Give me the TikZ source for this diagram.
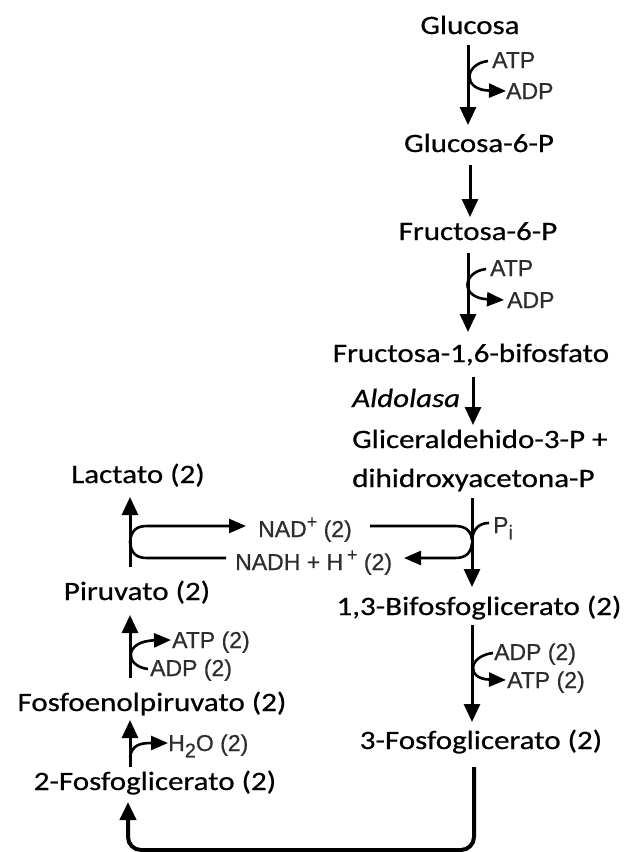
\documentclass[tikz,border=0pt]{standalone}
\usepackage{fontspec}
\setmainfont{Carlito}[FakeStretch=1.17,FakeBold=0.6]
\newfontfamily\labfont{Liberation Sans}[FakeBold=0.6]
\usetikzlibrary{arrows.meta}
\definecolor{labgray}{RGB}{45,45,45}
\newcommand\supx[1]{\raisebox{0.40em}{\fontsize{18}{18}\selectfont #1}}
\newcommand\subx[1]{\raisebox{-0.28em}{\fontsize{20}{20}\selectfont #1}}
\tikzset{
  metab/.style={inner sep=0pt, anchor=base, font=\fontsize{26.5}{30}\selectfont, text=black},
  metabw/.style={metab, anchor=base west},
  cofac/.style={inner sep=0pt, anchor=base west, font=\labfont\fontsize{23}{26}\selectfont, text=labgray},
  mainarr/.style={line width=3pt, -{Triangle[length=18pt,width=16pt]}},
  sidearr/.style={line width=2.6pt, -{Triangle[length=17pt,width=14pt]}},
  sideline/.style={line width=2.6pt},
  loopline/.style={line width=4pt, rounded corners=13pt, -{Triangle[length=18pt,width=16pt]}},
}
\begin{document}
\begin{tikzpicture}[x=1pt,y=-1pt]
\useasboundingbox (0,0) rectangle (631,852);

% ---- metabolites ----
\node[metab] (glu)  at (470,34)  {Glucosa};
\node[metab] (g6p)  at (479,152) {Glucosa-6-P};
\node[metab] (f6p)  at (478,240) {Fructosa-6-P};
\node[metab] (fbp)  at (471,362) {Fructosa-1,6-bifosfato};
\node[metabw] (ald) at (352,407) {\itshape Aldolasa};
\node[metabw] (gap) at (352,448) {Gliceraldehido-3-P +};
\node[metabw] (dhap) at (352,487) {dihidroxyacetona-P};
\node[metab] (bpg)  at (479,615) {1,3-Bifosfoglicerato (2)};
\node[metab] (pg3)  at (481,749) {3-Fosfoglicerato (2)};
\node[metab] (pg2)  at (155,790) {2-Fosfoglicerato (2)};
\node[metab] (pep)  at (152,711) {Fosfoenolpiruvato (2)};
\node[metab] (pyr)  at (137,600) {Piruvato (2)};
\node[metab] (lac)  at (138,483) {Lactato (2)};

% ---- cofactors ----
\node[cofac] (atp1) at (492,68)  {ATP};
\node[cofac] (adp1) at (506,99)  {ADP};
\node[cofac] (atp2) at (490,276) {ATP};
\node[cofac] (adp2) at (507,308) {ADP};
\node[cofac] (nad)  at (258,537) {NAD\supx{+} (2)};
\node[cofac] (nadh) at (235,570) {NADH + H\,\supx{+} (2)};
\node[cofac] (pi)   at (493,533) {P\subx{i}};
\node[cofac] (adp3) at (494,660) {ADP (2)};
\node[cofac] (atp3) at (507,688) {ATP (2)};
\node[cofac] (atp4) at (172,648) {ATP (2)};
\node[cofac] (adp4) at (150,676) {ADP (2)};
\node[cofac] (h2o)  at (168,751) {H\subx{2}O (2)};

% ---- connector end points ----
\coordinate (a1s) at (468,45);  \coordinate (a1e) at (468,125);
\coordinate (a2s) at (470,165); \coordinate (a2e) at (470,217);
\coordinate (a3s) at (468,253); \coordinate (a3e) at (468,332);
\coordinate (a4s) at (473,377); \coordinate (a4e) at (473,425);
\coordinate (a5s) at (472,498); \coordinate (a5e) at (472,587);
\coordinate (a6s) at (472,625); \coordinate (a6e) at (472,722);
\coordinate (l1s) at (130,567); \coordinate (l1e) at (130,497);
\coordinate (l2s) at (130,678); \coordinate (l2e) at (130,615);
\coordinate (l3s) at (130,767); \coordinate (l3e) at (130,720);
\coordinate (bs)  at (474,767); \coordinate (be)  at (128,802);

% ---- main pathway arrows ----
\draw[mainarr] (a1s) -- (a1e);
\draw[mainarr] (a2s) -- (a2e);
\draw[mainarr] (a3s) -- (a3e);
\draw[mainarr] (a4s) -- (a4e);
\draw[mainarr] (a5s) -- (a5e);
\draw[mainarr] (a6s) -- (a6e);
\draw[mainarr] (l1s) -- (l1e);
\draw[mainarr] (l2s) -- (l2e);
\draw[mainarr] (l3s) -- (l3e);
\draw[loopline] (bs) -- (474,850) -- (128,850) -- (be);

% ---- side reactions ----
\draw[sidearr] (488,61) .. controls (464,64) and (462,90) .. (506,91);
\draw[sidearr] (486,269) .. controls (462,272) and (460,298) .. (504,300);
\draw[sidearr] (493,653) .. controls (468,656) and (466,679) .. (506,680);
\draw[sidearr] (148,669) .. controls (124,666) and (124,641) .. (171,640);
\draw[sidearr] (130,757) .. controls (132,745) and (140,743) .. (168,743);

% Pi and NAD+/NADH exchange at the oxidation step
\draw[sideline] (489,523) .. controls (478,523) and (473,530) .. (472,540);
\draw[sideline] (370,526) -- (455,526) .. controls (466,526) and (471,531) .. (472,540);
\draw[sidearr] (472,543) .. controls (471,553) and (466,558) .. (455,558) -- (404,558);

% lactate dehydrogenase loop
\draw[sidearr] (130,542) .. controls (131,531) and (136,526) .. (147,526) -- (246,526);
\draw[sideline] (130,542) .. controls (131,553) and (136,558) .. (147,558) -- (226,558);
\end{tikzpicture}
\end{document}
